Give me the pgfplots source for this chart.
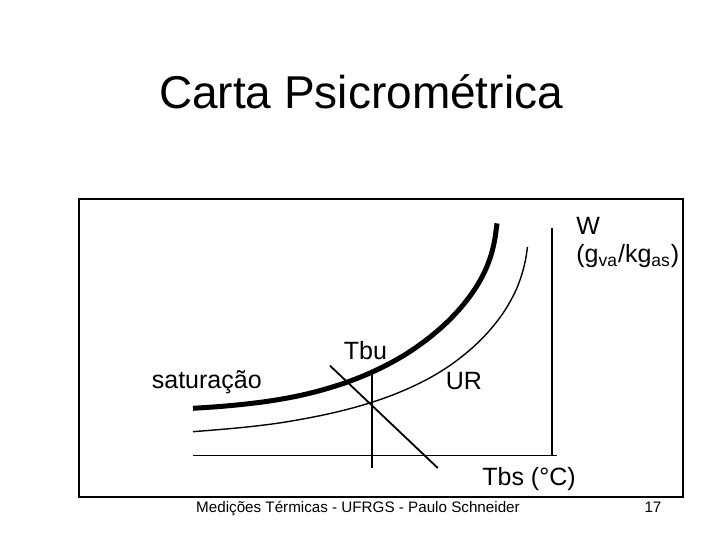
\documentclass[border=0pt]{standalone}
\usepackage{pgfplots}
\pgfplotsset{compat=1.18}
\usepackage{fontspec}
\setmainfont{Liberation Sans}
\begin{document}
\begin{tikzpicture}
\begin{axis}[
  width=360pt, height=270pt, scale only axis,
  xmin=0, xmax=720, ymin=0, ymax=540, y dir=reverse,
  hide axis, clip=false]
\path (axis cs:0,0) rectangle (axis cs:720,540);
% frame
\addplot[line width=1pt, line cap=rect, mark=none] coordinates {(79,199.3) (683.3,199.3) (683.3,497.5) (79,497.5) (79,199.3)};
% axes
\addplot[line width=0.9pt, mark=none] coordinates {(193,455.5) (557,455.5)};
\addplot[line width=0.9pt, mark=none] coordinates {(552.3,228.3) (552.3,455.5)};
% state lines
\addplot[line width=0.9pt, mark=none] coordinates {(371.7,372) (371.7,468.3)};
\addplot[line width=0.9pt, mark=none] coordinates {(330,365.7) (437.8,468)};
% saturation curve
\addplot[line width=2.5pt, smooth, tension=0.55, mark=none] coordinates {
(193,408.3) (220,406.5) (247,403.9) (272,400.65) (297,396.15) (320,390.6) (345,382.9) (368,373.9) (390,363.3) (410,351.5) (430,337.1) (448,321.3) (463,305.1) (475,288.9) (484,273.1) (490.5,256.9) (494.5,240.9) (497,223.4)};
% UR curve
\addplot[line width=0.7pt, smooth, tension=0.55, mark=none] coordinates {
(193,431.7) (240,427.7) (280,422.9) (320,415.7) (350,408.65) (372,402.25) (392,395.25) (412,386.85) (432,376.65) (450,365.45) (466,353.25) (480,340.65) (492,327.65) (502,314.65) (510,301.85) (517,287.85) (522,273.85) (525.5,259.85) (527.5,246.85)};
% texts
\node[font=\fontsize{23}{27}\selectfont, anchor=base] at (axis cs:361,108.5) {Carta Psicrométrica};
\node[font=\fontsize{12.5}{15}\selectfont, anchor=base west, inner sep=0pt] at (axis cs:151.5,389) {saturação};
\node[font=\fontsize{12.5}{15}\selectfont, anchor=base west, inner sep=0pt] at (axis cs:343.5,360) {Tbu};
\node[font=\fontsize{12.5}{15}\selectfont, anchor=base west, inner sep=0pt] at (axis cs:445.5,390) {UR};
\node[font=\fontsize{12.5}{15}\selectfont, anchor=base west, inner sep=0pt] at (axis cs:482,486) {Tbs (°C)};
\node[font=\fontsize{12.5}{15}\selectfont, anchor=base west, inner sep=0pt] at (axis cs:576,235) {W};
\node[font=\fontsize{12.5}{15}\selectfont, anchor=base west, inner sep=0pt] at (axis cs:576,263) {(g\textsubscript{va}/kg\textsubscript{as})};
\node[font=\fontsize{7.6}{9}\selectfont, anchor=base] at (axis cs:358,513) {Medições Térmicas - UFRGS - Paulo Schneider};
\node[font=\fontsize{7.6}{9}\selectfont, anchor=base] at (axis cs:653,513) {17};
\end{axis}
\end{tikzpicture}
\end{document}
